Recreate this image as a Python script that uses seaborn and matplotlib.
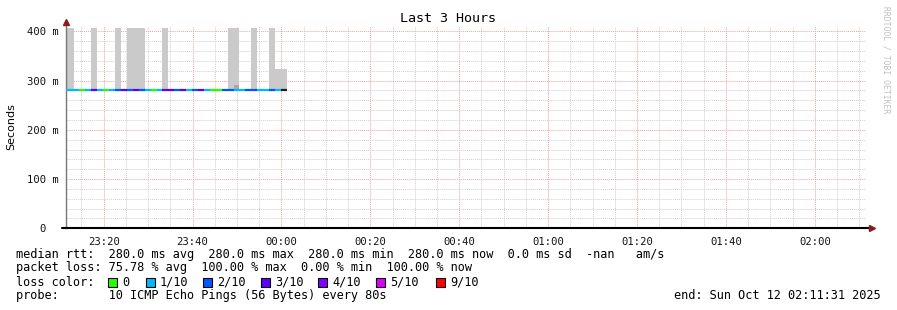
import numpy as np
import pandas as pd
import matplotlib
matplotlib.use("Agg")
import matplotlib.pyplot as plt
from matplotlib.patches import Rectangle
from matplotlib.ticker import MultipleLocator, FixedLocator
import seaborn as sns

# ---------------- data ----------------
# time axis in minutes relative to 00:00 (Oct 12)
window_start_min = -48.483   # 23:11:31
window_end_min = 131.517     # 02:11:31
first_step_min = -49.45      # start of first 80 s step drawn
step_min = 80 / 60.0

tick_minutes = [-40, -20, 0, 20, 40, 60, 80, 100, 120]
tick_labels = ["23:20", "23:40", "00:00", "00:20", "00:40", "01:00", "01:20", "01:40", "02:00"]

# per-step loss colour class (steps of 80 s)
loss_class = ["1/10", "1/10", "1/10", "0", "1/10", "3/10", "1/10", "0", "1/10", "2/10",
              "3/10", "2/10", "3/10", "2/10", "1/10", "0", "1/10", "3/10", "3/10", "2/10",
              "3/10", "1/10", "2/10", "3/10", "1/10", "0", "0", "2/10", "2/10", "1/10",
              "1/10", "2/10", "2/10", "1/10", "1/10", "2/10", "1/10", "10/10"]
# per-step median rtt (seconds)
median_rtt = [0.280, 0.280, 0.280, 0.280, 0.280, 0.280, 0.280, 0.280, 0.280, 0.280,
              0.280, 0.280, 0.280, 0.280, 0.280, 0.280, 0.280, 0.280, 0.280, 0.280,
              0.280, 0.280, 0.280, 0.280, 0.280, 0.280, 0.280, 0.280, 0.280, 0.280,
              0.280, 0.280, 0.280, 0.280, 0.280, 0.280, 0.280, 0.280]
# smoke (light) top per step, nan = none
smoke_top = [0.406, 0.406, np.nan, np.nan, np.nan, 0.406, np.nan, np.nan, np.nan, 0.406,
             np.nan, 0.406, 0.406, 0.406, np.nan, np.nan, np.nan, 0.406, np.nan, np.nan,
             np.nan, np.nan, np.nan, np.nan, np.nan, np.nan, np.nan, np.nan, 0.406, 0.406,
             np.nan, np.nan, 0.406, np.nan, np.nan, 0.406, 0.323, 0.323]
# darker smoke top per step
smoke_dark_top = [np.nan] * 28 + [0.282, 0.291] + [np.nan] * 8

loss_palette = {"0": "#26ff00", "1/10": "#00b8ff", "2/10": "#0059ff", "3/10": "#5e00ff",
                "4/10": "#7e00ff", "5/10": "#dd00ff", "9/10": "#ff0000", "10/10": "#202020"}
legend_classes = ["0", "1/10", "2/10", "3/10", "4/10", "5/10", "9/10"]

y_ticks = [0.0, 0.1, 0.2, 0.3, 0.4]
y_tick_labels = ["0  ", "100 m", "200 m", "300 m", "400 m"]

stats_lines = [
    "median rtt:  280.0 ms avg  280.0 ms max  280.0 ms min  280.0 ms now  0.0 ms sd  -nan   am/s",
    "packet loss: 75.78 % avg  100.00 % max  0.00 % min  100.00 % now",
]
probe_line = "probe:       10 ICMP Echo Pings (56 Bytes) every 80s"
end_line = "end: Sun Oct 12 02:11:31 2025"

# ---------------- build frames ----------------
n = len(loss_class)
starts = [first_step_min + i * step_min for i in range(n)]
rows = []
for i in range(n):
    rows.append({"t": starts[i], "rtt": median_rtt[i], "loss": loss_class[i], "seg": i})
    rows.append({"t": starts[i] + step_min, "rtt": median_rtt[i], "loss": loss_class[i], "seg": i})
line_df = pd.DataFrame(rows)

# ---------------- plot ----------------
sns.set_theme(style="white")
plt.rcParams["font.family"] = ["DejaVu Sans Mono", "DejaVu Sans"]

W, H = 897, 310
fig = plt.figure(figsize=(W / 100, H / 100), dpi=100)
fig.patch.set_facecolor("white")
ax = fig.add_axes([66 / W, 81.7 / H, 800 / W, 202.3 / H])
ax.set_facecolor("white")

xmin, xmax = window_start_min, window_end_min
ymax = 0.4108
ax.set_xlim(xmin, xmax)
ax.set_ylim(0, ymax)

# grid
ax.xaxis.set_major_locator(FixedLocator(tick_minutes))
ax.xaxis.set_minor_locator(MultipleLocator(5))
ax.yaxis.set_major_locator(FixedLocator(y_ticks))
ax.yaxis.set_minor_locator(MultipleLocator(0.02))
ax.grid(which="minor", color="#cfcfcf", linestyle=(0, (1, 1)), linewidth=0.7)
ax.grid(which="major", color="#f2a0a0", linestyle=(0, (1, 1)), linewidth=0.7)
ax.set_axisbelow(True)

# smoke
bottom = 0.280
light = [(s, t) for s, t in zip(starts, smoke_top) if not np.isnan(t)]
ax.bar([s for s, _ in light], [t - bottom for _, t in light], width=step_min, bottom=bottom,
       align="edge", color="#cacaca", linewidth=0, zorder=2)
dark = [(s, t) for s, t in zip(starts, smoke_dark_top) if not np.isnan(t)]
ax.bar([s for s, _ in dark], [t - bottom for _, t in dark], width=step_min, bottom=bottom,
       align="edge", color="#a8a8a8", linewidth=0, zorder=2)

# median line coloured by loss
sns.lineplot(data=line_df, x="t", y="rtt", hue="loss", units="seg", estimator=None,
             palette=loss_palette, legend=False, linewidth=1.6, ax=ax, zorder=3,
             solid_capstyle="butt")

ax.set_xlabel("")
ax.set_ylabel("")
ax.set_xticklabels(tick_labels)
ax.set_yticklabels(y_tick_labels)
ax.tick_params(axis="x", which="major", labelsize=7.6, length=2, width=0.7, pad=4,
               colors="#000000")
ax.tick_params(axis="y", which="major", labelsize=7.6, length=2, width=0.7, pad=3,
               colors="#000000")
ax.tick_params(axis="x", which="major", color="#e06060")
ax.tick_params(axis="y", which="major", color="#888888")
ax.tick_params(axis="both", which="minor", length=0)
for lab in ax.get_xticklabels() + ax.get_yticklabels():
    lab.set_fontfamily("DejaVu Sans Mono")
    lab.set_color("#111111")

for sp in ["top", "right"]:
    ax.spines[sp].set_visible(False)
ax.spines["left"].set_color("#777777")
ax.spines["left"].set_linewidth(1.0)
ax.spines["bottom"].set_color("#000000")
ax.spines["bottom"].set_linewidth(1.5)

# axis arrows
ax.plot([xmin], [ymax + 0.008], marker="^", color="#8b1a1a", markersize=4.5, clip_on=False, zorder=5)
ax.plot([xmax + 1.3], [0], marker=">", color="#8b1a1a", markersize=4.5, clip_on=False, zorder=5)
ax.plot([xmax, xmax + 1.0], [0, 0], color="#000000", lw=1.5, clip_on=False, zorder=4)
ax.plot([xmin - 0.9, xmin], [0, 0], color="#000000", lw=1.5, clip_on=False, zorder=4)

# texts
fs = 8.6
fig.text(448 / W, 1 - 19 / H, "Last 3 Hours", ha="center", va="center", fontsize=9.6,
         family="DejaVu Sans Mono", color="#000000")
fig.text(11 / W, 1 - 127 / H, "Seconds", ha="center", va="center", rotation=90,
         fontsize=8, family="DejaVu Sans", color="#000000")
fig.text(886 / W, 1 - 60 / H, "RRDTOOL / TOBI OETIKER", ha="center", va="center",
         rotation=-90, fontsize=5.8, family="DejaVu Sans Mono", color="#c0c0c0")

row_y = [254.3, 268.0, 282.0, 295.7]
for line, yy in zip(stats_lines, row_y[:2]):
    fig.text(16 / W, 1 - yy / H, line, ha="left", va="center", fontsize=fs,
             family="DejaVu Sans Mono", color="#000000")
fig.text(16 / W, 1 - row_y[2] / H, "loss color:", ha="left", va="center", fontsize=fs,
         family="DejaVu Sans Mono", color="#000000")
box_x = [108, 146, 203, 261, 318, 376, 436]
for bx, cls in zip(box_x, legend_classes):
    fig.add_artist(Rectangle((bx / W, (H - row_y[2] - 4.5) / H), 8.5 / W, 8.5 / H,
                             transform=fig.transFigure, facecolor=loss_palette[cls],
                             edgecolor="#000000", linewidth=0.8))
    fig.text((bx + 14) / W, 1 - row_y[2] / H, cls, ha="left", va="center", fontsize=fs,
             family="DejaVu Sans Mono", color="#000000")
fig.text(16 / W, 1 - row_y[3] / H, probe_line, ha="left", va="center", fontsize=fs,
         family="DejaVu Sans Mono", color="#000000")
fig.text(881 / W, 1 - row_y[3] / H, end_line, ha="right", va="center", fontsize=fs,
         family="DejaVu Sans Mono", color="#000000")

fig.savefig("out.png", dpi=100, facecolor="white")
